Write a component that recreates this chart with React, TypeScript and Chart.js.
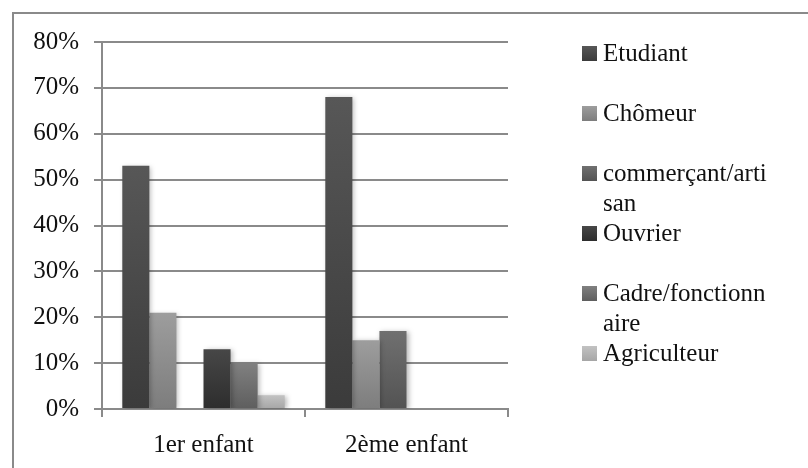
import React, { useEffect, useRef } from "react";
import { Chart, registerables } from "chart.js";

Chart.register(...registerables);

const categories = ["1er enfant", "2ème enfant"];
const seriesNames = [
  "Etudiant",
  "Chômeur",
  "commerçant/artisan",
  "Ouvrier",
  "Cadre/fonctionnaire",
  "Agriculteur",
];
const etudiant = [53, 68];
const chomeur = [21, 15];
const commercant = [null, 17];
const ouvrier = [13, null];
const cadre = [10, null];
const agriculteur = [3, null];
const seriesValues = [etudiant, chomeur, commercant, ouvrier, cadre, agriculteur];

const yMin = 0;
const yMax = 80;
const yStep = 10;

const colorTop = ["#575757", "#9d9d9d", "#707070", "#474747", "#808080", "#c2c2c2"];
const colorBottom = ["#3b3b3b", "#7d7d7d", "#535353", "#2d2d2d", "#5e5e5e", "#a6a6a6"];

const FONT = '"Liberation Serif", "Times New Roman", serif';
const FONT_SIZE = 25;
const GRID = "#8a8a8a";
const TEXT = "#111111";

const shadowPlugin = {
  id: "barShadow",
  beforeDatasetsDraw(chart: any) {
    const ctx = chart.ctx;
    ctx.save();
    ctx.shadowColor = "rgba(0,0,0,0.28)";
    ctx.shadowBlur = 5;
    ctx.shadowOffsetX = 2;
    ctx.shadowOffsetY = 1;
  },
  afterDatasetsDraw(chart: any) {
    chart.ctx.restore();
  },
};

const wrapText = (ctx: CanvasRenderingContext2D, text: string, maxW: number) => {
  const lines: string[] = [];
  let cur = "";
  for (const ch of text) {
    const t = cur + ch;
    if (ctx.measureText(t).width > maxW && cur.length > 0) {
      lines.push(cur);
      cur = ch;
    } else {
      cur = t;
    }
  }
  if (cur) lines.push(cur);
  return lines;
};

const legendPlugin = {
  id: "customLegend",
  afterDraw(chart: any) {
    const ctx: CanvasRenderingContext2D = chart.ctx;
    const x0 = chart.chartArea.right + 74;
    const top = 53.5;
    const step = 60;
    const sw = 15;
    const lineH = 30;
    ctx.save();
    ctx.font = `${FONT_SIZE}px ${FONT}`;
    ctx.textBaseline = "middle";
    ctx.textAlign = "left";
    chart.data.datasets.forEach((ds: any, i: number) => {
      const cy = top + i * step;
      const g = ctx.createLinearGradient(0, cy - sw / 2, 0, cy + sw / 2);
      g.addColorStop(0, colorTop[i]);
      g.addColorStop(1, colorBottom[i]);
      ctx.fillStyle = g;
      ctx.fillRect(x0, cy - sw / 2, sw, sw);
      ctx.fillStyle = TEXT;
      const lines = wrapText(ctx, ds.label, 168);
      lines.forEach((ln, j) => {
        ctx.fillText(ln, x0 + sw + 6, cy + j * lineH + 1);
      });
    });
    ctx.restore();
  },
};

export default function App() {
  const ref = useRef<HTMLCanvasElement | null>(null);

  useEffect(() => {
    if (!ref.current) return;
    const chart = new Chart(ref.current, {
      type: "bar",
      data: {
        labels: categories,
        datasets: seriesValues.map((vals, i) => ({
          label: seriesNames[i],
          data: vals,
          borderWidth: 0,
          categoryPercentage: 0.8,
          barPercentage: 1,
          backgroundColor: (c: any) => {
            const ch = c.chart;
            if (!ch.chartArea || c.type !== "data" || c.raw == null) return colorTop[i];
            const ys = ch.scales.y;
            const y0 = ys.getPixelForValue(c.raw);
            const y1 = ys.getPixelForValue(0);
            const g = ch.ctx.createLinearGradient(0, y0, 0, y1);
            g.addColorStop(0, colorTop[i]);
            g.addColorStop(1, colorBottom[i]);
            return g;
          },
        })),
      },
      options: {
        responsive: false,
        animation: false,
        devicePixelRatio: 1,
        layout: { padding: { left: 0, right: 300, top: 42, bottom: 0 } },
        plugins: {
          legend: { display: false },
          tooltip: { enabled: false },
        },
        scales: {
          x: {
            afterFit: (s: any) => {
              s.height = 59;
            },
            grid: {
              display: true,
              drawOnChartArea: false,
              drawTicks: true,
              tickLength: 8,
              color: GRID,
              lineWidth: 2,
              offset: true,
            },
            border: { display: true, color: GRID, width: 2 },
            ticks: {
              color: TEXT,
              padding: 13,
              font: { family: FONT, size: FONT_SIZE },
            },
          },
          y: {
            min: yMin,
            max: yMax,
            afterFit: (s: any) => {
              s.width = 102;
            },
            grid: {
              color: GRID,
              lineWidth: 2,
              tickLength: 8,
              drawTicks: true,
            },
            border: { display: true, color: GRID, width: 2 },
            ticks: {
              stepSize: yStep,
              color: TEXT,
              padding: 15,
              font: { family: FONT, size: FONT_SIZE },
              callback: (v: any) => `${v}%`,
            },
          },
        },
      },
      plugins: [shadowPlugin, legendPlugin],
    } as any);
    return () => chart.destroy();
  }, []);

  return (
    <div
      style={{
        position: "absolute",
        left: 0,
        top: 0,
        width: 808,
        height: 468,
        overflow: "hidden",
        background: "#ffffff",
      }}
    >
      <div
        style={{
          position: "absolute",
          left: 12,
          top: 12,
          width: 1000,
          height: 1000,
          borderTop: `2px solid ${GRID}`,
          borderLeft: `2px solid ${GRID}`,
        }}
      />
      <canvas
        ref={ref}
        width={808}
        height={468}
        style={{ position: "absolute", left: 0, top: 0, width: 808, height: 468 }}
      />
    </div>
  );
}
